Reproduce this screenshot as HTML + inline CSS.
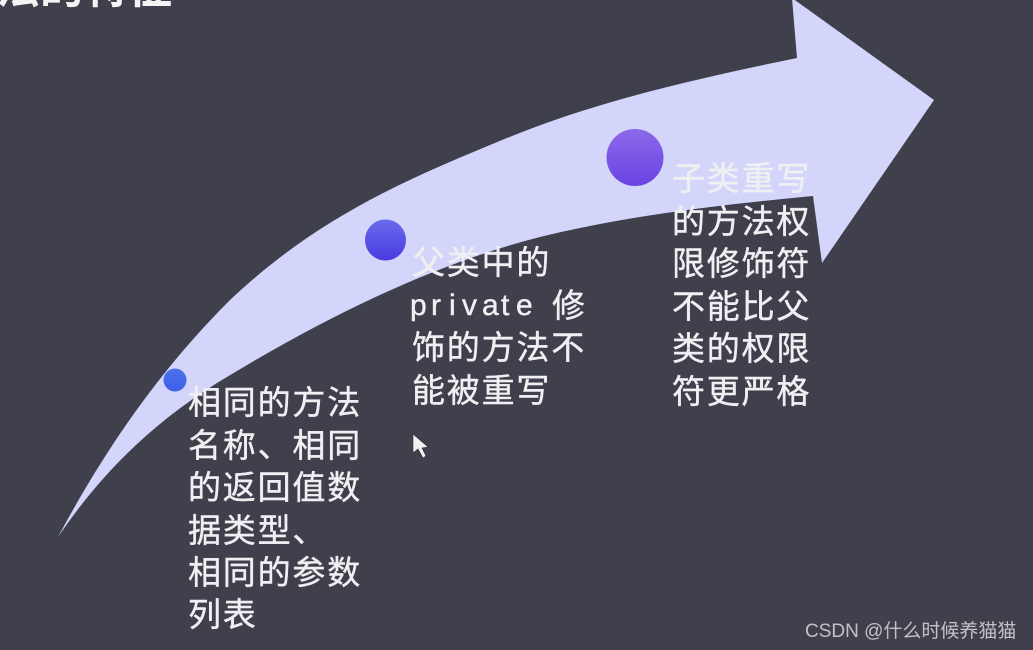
<!DOCTYPE html>
<html lang="zh"><head><meta charset="utf-8"><style>
html,body{margin:0;padding:0;background:#3f404c}
svg{display:block}
.t{font-family:"Liberation Sans","Noto Sans CJK SC",sans-serif;font-size:33px;letter-spacing:1.8px;fill:#f0f0f2;stroke:#f0f0f2;stroke-width:.4px}
.m{font-family:"Liberation Sans","Noto Sans CJK SC",sans-serif;font-size:30px;fill:#f0f0f2;stroke:#f0f0f2;stroke-width:.4px}
</style></head><body>
<svg width="1033" height="650" viewBox="0 0 1033 650" xmlns="http://www.w3.org/2000/svg">
<defs>
<linearGradient id="a" x1="0" y1="0" x2="0" y2="1"><stop offset="0" stop-color="#4a74ea"/><stop offset="1" stop-color="#3f5ee6"/></linearGradient>
<linearGradient id="b" x1="0" y1="0" x2="0" y2="1"><stop offset="0" stop-color="#6a6cec"/><stop offset="1" stop-color="#4a3ae2"/></linearGradient>
<linearGradient id="c" x1="0" y1="0" x2="0" y2="1"><stop offset="0" stop-color="#8c68ea"/><stop offset="1" stop-color="#6a44e4"/></linearGradient>
</defs>
<rect width="1033" height="650" fill="#3f404c"/>
<text x="-4" y="3" font-family="'Liberation Sans','Noto Sans CJK SC',sans-serif" font-size="44" font-weight="700" fill="#f4f4f4">法的特征</text>
<path fill="#d3d5fa" d="M58,537 C110,440 165,365 230,300 C320,215 410,178 507,138 C600,100 700,78 797,58 L792,-2 L934,100 L822,263 L813,196 C720,205 630,215 540,237 C430,265 320,320 217,383 C150,425 100,475 58,537 Z"/>
<circle cx="175" cy="380" r="11.5" fill="url(#a)"/>
<circle cx="385.5" cy="240" r="20.5" fill="url(#b)"/>
<circle cx="635" cy="157.5" r="28.5" fill="url(#c)"/>
<text class="t" x="188" y="414">相同的方法</text>
<text class="t" x="188" y="457">名称、相同</text>
<text class="t" x="188" y="499">的返回值数</text>
<text class="t" x="188" y="542">据类型、</text>
<text class="t" x="188" y="584">相同的参数</text>
<text class="t" x="188" y="626">列表</text>
<text class="t" x="412" y="274">父类中的</text>
<text class="m" x="410 431 449 462 482 501 516" y="315">private</text>
<text class="t" x="552" y="317">修</text>
<text class="t" x="412" y="359">饰的方法不</text>
<text class="t" x="412" y="402">能被重写</text>
<text class="t" x="672" y="190">子类重写</text>
<text class="t" x="672" y="233">的方法权</text>
<text class="t" x="672" y="275">限修饰符</text>
<text class="t" x="672" y="318">不能比父</text>
<text class="t" x="672" y="360">类的权限</text>
<text class="t" x="672" y="403">符更严格</text>
<path d="M413,434 L413,453 L418,449 L423,458 L426,456 L422,448 L428,447 Z" fill="#f2f2f2" stroke="#333" stroke-width=".6"/>
<text x="805" y="637" font-family="'Liberation Sans','Noto Sans CJK SC',sans-serif" font-size="19" fill="#c2c2c4">CSDN @什么时候养猫猫</text>
</svg>
</body></html>
